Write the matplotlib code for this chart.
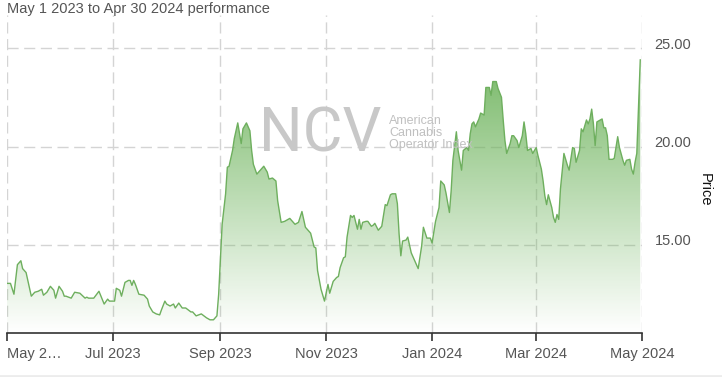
import matplotlib.pyplot as plt
import matplotlib.dates as mdates
import matplotlib.transforms as mtransforms
import numpy as np
from matplotlib.colors import ListedColormap
from matplotlib.lines import Line2D
from matplotlib.patches import Polygon

plt.rcParams['font.family'] = ['Liberation Sans', 'DejaVu Sans']

start = np.datetime64('2023-05-01')
days = [0, 2, 4, 6, 8, 9, 11, 14, 16, 18,
        20, 21, 23, 25, 27, 28, 30, 32, 33, 34,
        37, 39, 42, 45, 46, 47, 50, 53, 56, 58,
        59, 62, 63, 65, 66, 68, 70, 71, 72, 73,
        74, 76, 79, 81, 82, 84, 86, 88, 89, 91,
        92, 94, 96, 97, 99, 101, 103, 106, 107, 109,
        112, 115, 117, 119, 121, 122, 124, 126, 127, 128,
        130, 131, 133, 135, 136, 138, 140, 141, 142, 144,
        146, 148, 150, 151, 153, 155, 156, 158, 160, 163,
        166, 168, 170, 172, 175, 177, 178, 179, 181, 183,
        185, 186, 188, 190, 191, 192, 194, 195, 196, 198,
        199, 200, 202, 203, 204, 205, 207, 208, 210, 211,
        212, 214, 216, 217, 218, 219, 221, 222, 224, 225,
        226, 227, 228, 230, 231, 233, 235, 237, 239, 240,
        242, 244, 245, 247, 249, 250, 252, 253, 255, 256,
        257, 259, 260, 262, 263, 265, 266, 267, 268, 269,
        270, 272, 273, 275, 276, 278, 279, 280, 282, 283,
        285, 286, 287, 288, 290, 291, 292, 294, 295, 297,
        298, 299, 300, 302, 303, 305, 306, 308, 309, 310,
        311, 312, 314, 315, 316, 317, 318, 319, 321, 323,
        324, 326, 327, 328, 330, 331, 332, 334, 335, 336,
        337, 338, 339, 340, 342, 343, 344, 345, 346, 347,
        349, 350, 352, 353, 355, 356, 357, 359, 360, 361,
        362, 363, 365]
price = [13.05, 13.05, 12.5, 14.0, 14.2, 13.8, 13.6, 12.4, 12.6, 12.65,
         12.75, 12.45, 12.6, 12.9, 12.7, 12.3, 12.9, 12.65, 12.4, 12.4,
         12.3, 12.6, 12.55, 12.3, 12.35, 12.3, 12.3, 12.65, 12.0, 12.25,
         12.15, 12.15, 12.8, 12.7, 12.4, 13.1, 13.2, 13.2, 12.95, 13.2,
         13.0, 12.5, 12.45, 12.25, 11.9, 11.6, 11.5, 11.45, 11.7, 12.15,
         12.0, 11.9, 12.0, 11.8, 12.05, 11.8, 11.8, 11.6, 11.6, 11.4,
         11.5, 11.3, 11.2, 11.2, 11.4, 12.5, 16.05, 17.6, 18.95, 19.0,
         19.8, 20.4, 21.2, 20.15, 20.9, 21.2, 20.8, 19.8, 19.1, 18.6,
         18.8, 19.0, 18.7, 18.35, 18.4, 18.25, 17.25, 16.15, 16.2, 16.35,
         16.05, 16.15, 16.7, 15.9, 15.6, 14.9, 14.85, 13.7, 12.75, 12.15,
         13.0, 12.55, 13.15, 13.35, 13.4, 13.85, 14.35, 14.4, 15.4, 16.5,
         16.4, 16.5, 15.8, 16.3, 15.8, 16.15, 16.2, 16.2, 15.95, 16.0,
         16.1, 15.75, 15.95, 16.5, 17.05, 17.0, 17.55, 17.6, 17.6, 17.1,
         15.55, 14.45, 15.2, 15.25, 15.4, 14.6, 14.2, 13.8, 14.95, 15.9,
         15.35, 15.35, 15.1, 16.2, 16.9, 18.25, 18.05, 17.65, 16.65, 17.75,
         19.3, 20.75, 19.8, 18.8, 19.8, 19.95, 19.8, 20.65, 21.15, 21.25,
         21.0, 21.4, 21.7, 21.6, 23.0, 23.0, 22.6, 23.3, 23.3, 22.95,
         22.5, 21.35, 20.3, 19.65, 20.15, 20.55, 20.55, 20.3, 19.95, 20.55,
         21.25, 20.65, 19.8, 19.9, 19.65, 19.95, 19.55, 18.85, 18.25, 17.5,
         17.05, 17.55, 16.9, 16.4, 16.15, 16.55, 16.3, 17.85, 19.65, 19.05,
         18.8, 19.95, 19.9, 19.2, 19.8, 20.9, 20.75, 21.35, 21.15, 21.4,
         21.9, 21.15, 20.05, 21.25, 21.35, 21.4, 20.95, 20.95, 20.55, 19.35,
         19.35, 19.4, 20.5, 19.95, 19.3, 19.05, 19.3, 19.35, 18.85, 18.6,
         19.2, 19.65, 24.4]

tick_dates = ['2023-05-01', '2023-07-01', '2023-09-01', '2023-11-01',
              '2024-01-01', '2024-03-01', '2024-05-01']
tick_labels = ['May 2…', 'Jul 2023', 'Sep 2023', 'Nov 2023',
               'Jan 2024', 'Mar 2024', 'May 2024']
price_ticks = [15, 20, 25]

W, H = 722, 377
fig = plt.figure(figsize=(W / 100, H / 100), dpi=100)
ax = fig.add_axes([7 / W, 44 / H, 635 / W, 318 / H])

dates = start + np.array(days).astype('timedelta64[D]')
x = mdates.date2num(dates)
ymin, ymax = 10.53, 26.68
green = '#6eaf5e'

# gradient fill under the line
rgba = np.zeros((256, 4))
rgba[:, :3] = (0.42, 0.70, 0.35)
rgba[:, 3] = np.linspace(0, 0.92, 256)
grad = np.linspace(0, 1, 256).reshape(-1, 1)
im = ax.imshow(grad, extent=[x[0], x[-1], ymin, 24.5], origin='lower',
               aspect='auto', cmap=ListedColormap(rgba), zorder=1)
verts = [(x[0], ymin)] + list(zip(x, price)) + [(x[-1], ymin)]
clip = Polygon(verts, closed=True, facecolor='none', edgecolor='none')
ax.add_patch(clip)
im.set_clip_path(clip)
ax.plot(x, price, color=green, lw=1, zorder=3)

xt = mdates.date2num(np.array(tick_dates, dtype='datetime64[D]'))
ax.set_xlim(xt[0], xt[-1])
ax.set_ylim(ymin, ymax)
ax.set_xticks(xt)
ax.set_xticklabels(tick_labels)
ax.set_yticks(price_ticks)
ax.set_yticklabels(['%.2f' % v for v in price_ticks])

ax.grid(True, color='#d4d4d4', linestyle=(0, (8, 4)), lw=1, zorder=0)
ax.set_axisbelow(True)
for s in ['top', 'left', 'right']:
    ax.spines[s].set_visible(False)
ax.spines['bottom'].set_color('#333333')
ax.spines['bottom'].set_linewidth(1.2)

ax.yaxis.tick_right()
ax.tick_params(axis='y', length=0, pad=9, labelsize=10.5, labelcolor='#555555')
ax.tick_params(axis='x', length=6, width=1.2, color='#333333', pad=4,
               labelsize=10.5, labelcolor='#555555')
ax.get_xticklabels()[0].set_horizontalalignment('left')
for lbl in ax.get_yticklabels():
    lbl.set_transform(lbl.get_transform() +
                      mtransforms.ScaledTranslation(0, 0.05, fig.dpi_scale_trans))

fig.text(705 / W, 1 - 190 / H, 'Price', rotation=270, ha='center', va='center',
         fontsize=10.5, color='#111111')
fig.text(7 / W, 1 - 9 / H, 'May 1 2023 to Apr 30 2024 performance',
         ha='left', va='center', fontsize=10.5, color='#555555')

# watermark
fig.text(320 / W, 1 - 135 / H, 'NCV', ha='center', va='center', fontsize=44,
         family=['Roboto', 'DejaVu Sans'], color='#c8c8c8', zorder=0)
fig.add_artist(Line2D([385 / W, 385 / W], [1 - 105 / H, 1 - 160 / H],
                      color='#dddddd', lw=1, zorder=0))
fig.text(389 / W, 1 - 133 / H, 'American\nCannabis\nOperator Index', ha='left',
         va='center', fontsize=9, linespacing=1.05, color='#c0c0c0', zorder=0)

fig.add_artist(Line2D([0, 1], [1.5 / H, 1.5 / H], color='#ececec', lw=2))

fig.savefig('out.png', dpi=100)
